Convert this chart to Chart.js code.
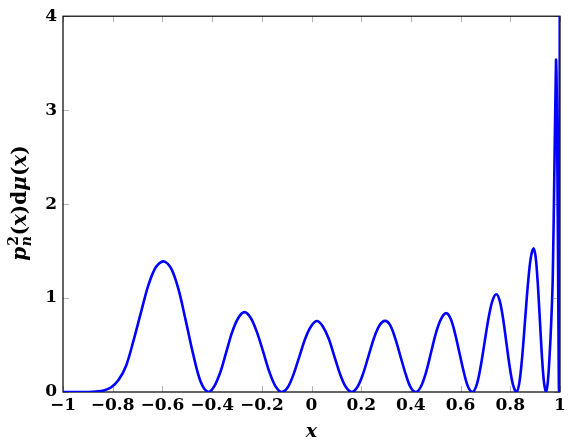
<!DOCTYPE html>
<html><head><meta charset="utf-8">
<script src="https://cdn.jsdelivr.net/npm/chart.js@4"></script>
<style>html,body{margin:0;padding:0;background:#fff}#wrap{width:574px;height:447px;position:relative}</style>
</head><body><div id="wrap"><canvas id="c" width="574" height="447"></canvas></div>
<script>
const xValues = [
 -1, -0.95, -0.896, -0.866, -0.836, -0.806, -0.776, -0.746, -0.716, -0.686, -0.656, -0.626, -0.596,
 -0.566, -0.536, -0.506, -0.476, -0.446, -0.416,
 -0.392, -0.367, -0.343, -0.319, -0.294, -0.270,
 -0.245, -0.220, -0.194, -0.169, -0.144, -0.119,
 -0.0955, -0.072, -0.0485, -0.025, -0.0015, 0.022,
 0.045, 0.069, 0.092, 0.115, 0.139, 0.162,
 0.184, 0.207, 0.229, 0.251, 0.274, 0.296,
 0.317, 0.337, 0.358, 0.379, 0.399, 0.420,
 0.440, 0.461, 0.481, 0.501, 0.522, 0.542,
 0.560, 0.577, 0.595, 0.613, 0.630, 0.648,
 0.664, 0.680, 0.696, 0.712, 0.728, 0.744,
 0.7575, 0.771, 0.7845, 0.798, 0.8115, 0.825,
 0.8365, 0.848, 0.8595, 0.871, 0.8825, 0.894,
 0.9023, 0.9107, 0.919, 0.9273, 0.9357, 0.944,
 0.9507, 0.9573, 0.964, 0.9707, 0.9773, 0.984,
 0.986, 0.988, 0.990, 0.992, 0.994, 0.996, 0.998, 1.0
];
const yValues = [
 0, 0, 0, 0.005, 0.017, 0.05, 0.13, 0.28, 0.55, 0.85, 1.14, 1.33, 1.39,
 1.32, 1.10, 0.76, 0.40, 0.11, 0,
 0.057, 0.21, 0.425, 0.64, 0.79, 0.85,
 0.79, 0.64, 0.425, 0.21, 0.057, 0,
 0.05, 0.19, 0.38, 0.57, 0.70, 0.755,
 0.70, 0.57, 0.38, 0.19, 0.05, 0,
 0.05, 0.19, 0.38, 0.57, 0.71, 0.757,
 0.71, 0.57, 0.38, 0.19, 0.05, 0,
 0.056, 0.21, 0.42, 0.63, 0.78, 0.84,
 0.78, 0.63, 0.42, 0.21, 0.056, 0,
 0.07, 0.26, 0.52, 0.78, 0.97, 1.04,
 0.97, 0.78, 0.52, 0.26, 0.07, 0,
 0.10, 0.38, 0.765, 1.15, 1.43, 1.53,
 1.43, 1.15, 0.765, 0.38, 0.10, 0,
 0.10, 0.35, 0.70, 1.20, 2.35, 3.53,
 3.35, 2.90, 2.20, 1.45, 0.60, 0, 0.6, 9
];
const xTicks = [-1, -0.8, -0.6, -0.4, -0.2, 0, 0.2, 0.4, 0.6, 0.8, 1];
const xTickLabels = ['\u22121', '\u22120.8', '\u22120.6', '\u22120.4', '\u22120.2', '0', '0.2', '0.4', '0.6', '0.8', '1'];
const yTicks = [0, 1, 2, 3, 4];
const yTickLabels = ['0', '1', '2', '3', '4'];

const FONT = 'DejaVu Serif';

const decor = {
  id: 'decor',
  beforeDatasetsDraw(chart) {
    const {ctx, chartArea: a, scales: {x, y}} = chart;
    ctx.save();
    ctx.strokeStyle = '#b4b4b4';
    ctx.lineWidth = 1;
    const L = 6;
    ctx.beginPath();
    xTicks.forEach(v => {
      const px = Math.round(x.getPixelForValue(v)) + 0.5;
      ctx.moveTo(px, a.bottom); ctx.lineTo(px, a.bottom - L);
      ctx.moveTo(px, a.top); ctx.lineTo(px, a.top + L);
    });
    yTicks.forEach(v => {
      const py = Math.round(y.getPixelForValue(v)) + 0.5;
      ctx.moveTo(a.left, py); ctx.lineTo(a.left + L, py);
      ctx.moveTo(a.right, py); ctx.lineTo(a.right - L, py);
    });
    ctx.stroke();
    ctx.strokeStyle = '#000';
    ctx.lineWidth = 1.2;
    ctx.strokeRect(a.left, a.top, a.right - a.left, a.bottom - a.top);
    ctx.restore();
  },
  afterDraw(chart) {
    const {ctx, chartArea: a} = chart;
    ctx.save();
    ctx.fillStyle = '#000';
    ctx.font = 'italic bold 19px ' + FONT;
    ctx.textAlign = 'center';
    ctx.textBaseline = 'middle';
    ctx.fillText('x', (a.left + a.right) / 2, 432);
    const S = 20, s = 14;
    const fI = 'italic bold ' + S + 'px ' + FONT;
    const fR = 'bold ' + S + 'px ' + FONT;
    const fSup = 'bold ' + s + 'px ' + FONT;
    const fSub = 'italic bold ' + s + 'px ' + FONT;
    const parts = [
      {t: 'p', f: fI}, {sup: '2', sub: 'n'}, {t: '(', f: fR}, {t: 'x', f: fI}, {t: ')', f: fR},
      {t: 'd', f: fR}, {t: '\u03bc', f: fI}, {t: '(', f: fR}, {t: 'x', f: fI}, {t: ')', f: fR}
    ];
    let total = 0;
    parts.forEach(p => {
      if (p.t) { ctx.font = p.f; p.w = ctx.measureText(p.t).width; }
      else { ctx.font = fSup; const w1 = ctx.measureText(p.sup).width; ctx.font = fSub; const w2 = ctx.measureText(p.sub).width; p.w = Math.max(w1, w2) + 1; }
      total += p.w;
    });
    ctx.translate(26, 203);
    ctx.rotate(-Math.PI / 2);
    ctx.textAlign = 'left';
    ctx.textBaseline = 'alphabetic';
    let cx = -total / 2;
    parts.forEach(p => {
      if (p.t) { ctx.font = p.f; ctx.fillText(p.t, cx, 0); }
      else {
        ctx.font = fSup; ctx.fillText(p.sup, cx + 1, -8);
        ctx.font = fSub; ctx.fillText(p.sub, cx + 0.5, 5);
      }
      cx += p.w;
    });
    ctx.restore();
  }
};

const points = xValues.map((v, i) => ({x: v, y: yValues[i]}));

new Chart(document.getElementById('c'), {
  type: 'line',
  data: {
    datasets: [{
      data: points,
      borderColor: '#0000ff',
      borderWidth: 2.6,
      pointRadius: 0,
      fill: false,
      tension: 0.33
    }]
  },
  options: {
    responsive: false,
    animation: false,
    devicePixelRatio: 1,
    layout: {padding: {left: 0, right: 14, top: 14, bottom: 0}},
    plugins: {legend: {display: false}, tooltip: {enabled: false}},
    scales: {
      x: {
        type: 'linear', min: -1, max: 1,
        afterBuildTicks: sc => { sc.ticks = xTicks.map(v => ({value: v})); },
        afterFit: sc => { sc.height = 55; },
        ticks: {
          callback: (v, i) => xTickLabels[i],
          font: {family: FONT, weight: 'bold', size: 17},
          color: '#000', padding: 3, maxRotation: 0, autoSkip: false
        },
        grid: {display: false, drawTicks: false},
        border: {display: false}
      },
      y: {
        type: 'linear', min: 0, max: 4,
        afterBuildTicks: sc => { sc.ticks = yTicks.map(v => ({value: v})); },
        afterFit: sc => { sc.width = 63; },
        ticks: {
          callback: (v, i) => yTickLabels[i],
          font: {family: FONT, weight: 'bold', size: 17},
          color: '#000', padding: 6
        },
        grid: {display: false, drawTicks: false},
        border: {display: false}
      }
    }
  },
  plugins: [decor]
});
</script>
</body></html>
